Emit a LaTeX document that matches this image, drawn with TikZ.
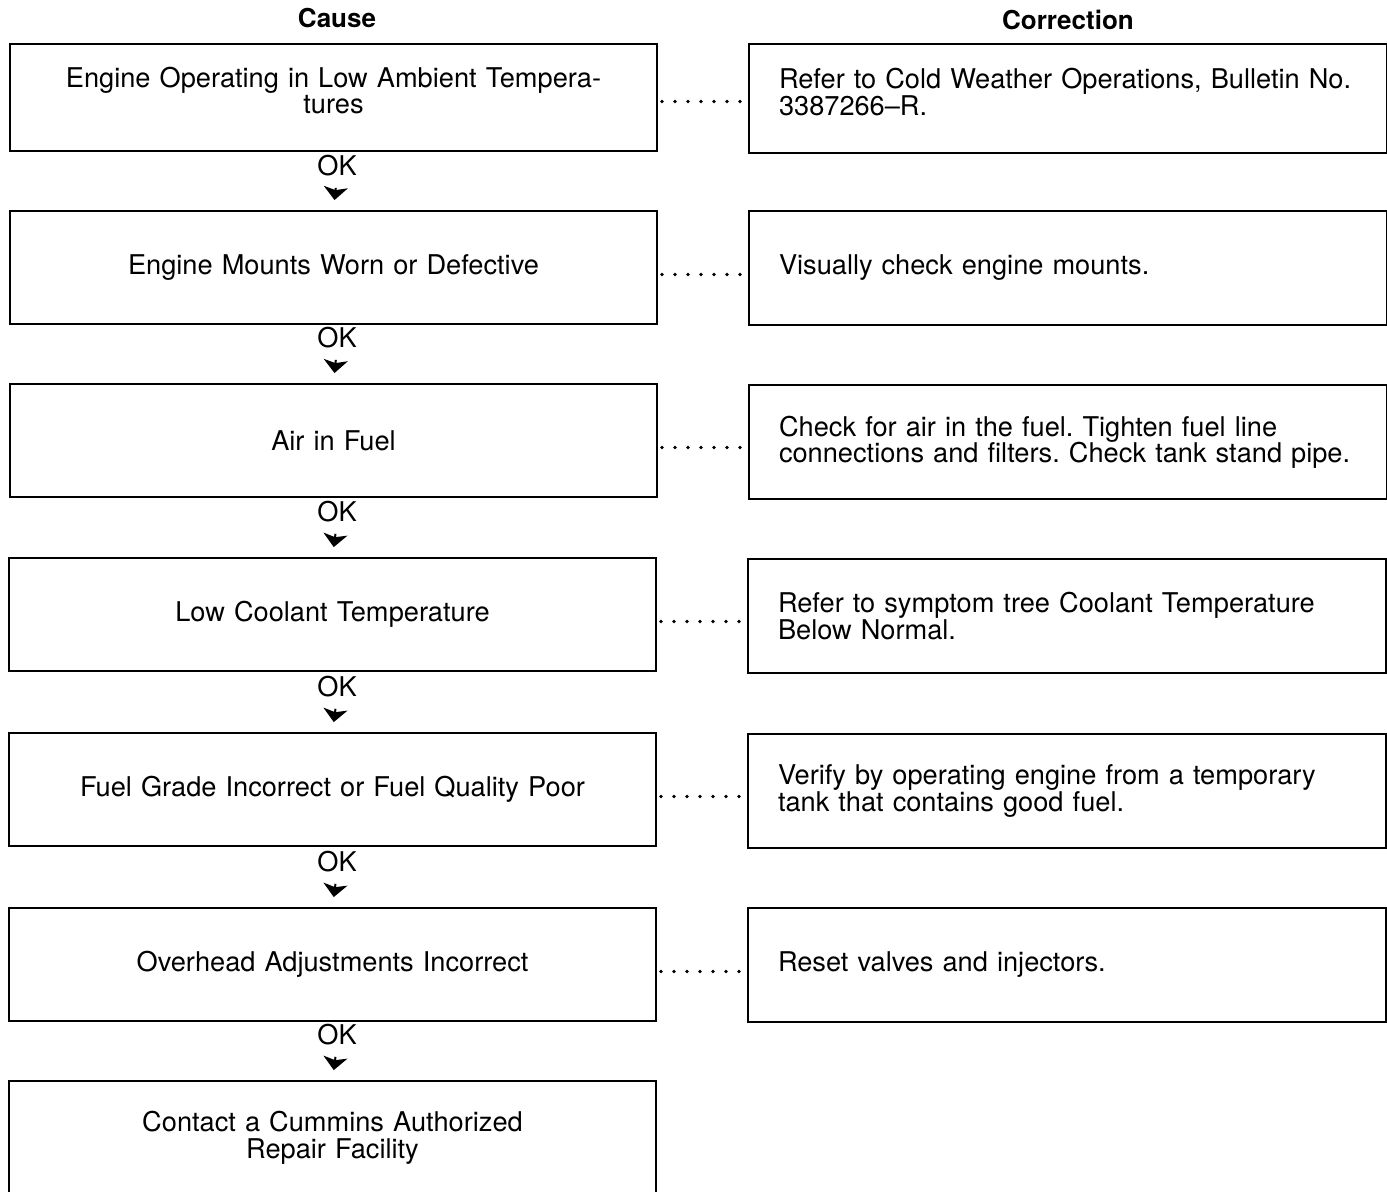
\documentclass[tikz,border=0pt]{standalone}
\usepackage{fontspec}
\setmainfont{TeX Gyre Heros}
\usetikzlibrary{arrows.meta}
\frenchspacing

\begin{document}
\begin{tikzpicture}[x=0.5pt,y=-0.5pt,
cause/.style={draw,line width=1pt,anchor=north west,minimum width=323.5pt,minimum height=56.5pt,
  text width=300pt,align=center,inner sep=0pt,font=\fontsize{13.6}{13.4}\selectfont},
fix/.style={draw,line width=1pt,anchor=north west,minimum width=319pt,minimum height=57pt,
  text width=289pt,inner xsep=15pt,inner ysep=0pt,align=left,font=\fontsize{13.6}{13.2}\selectfont},
head/.style={font=\fontsize{13}{13}\selectfont\bfseries},
ok/.style={anchor=base,inner sep=0pt,font=\fontsize{13.6}{13.4}\selectfont},
okarrow/.style={-{Stealth[length=6.5pt,width=12pt,inset=1.5pt]},line width=1pt,shorten <=6pt,shorten >=5pt},
dots/.style={line width=1.8pt,line cap=round,dash pattern=on 0pt off 6.5pt,shorten <=2pt,shorten >=2pt}]
\clip(0,0)rectangle(1387,1191);
% headings
\node[head](hcause)at(337,18){Cause};
\node[head](hfix)at(1068,20){Correction};
% cause column
\node[cause,minimum height=53.5pt,text depth=20.5pt](c1)at(9,43){Engine Operating in Low Ambient Tempera-\\tures};
\node[cause](c2)at(9,210){Engine Mounts Worn or Defective};
\node[cause](c3)at(9,383){Air in Fuel};
\node[cause](c4)at(8,557){Low Coolant Temperature};
\node[cause](c5)at(8,732){Fuel Grade Incorrect or Fuel Quality Poor};
\node[cause](c6)at(8,907){Overhead Adjustments Incorrect};
\node[cause](c7)at(8,1080){Contact a Cummins Authorized\\Repair Facility};
% correction column
\node[fix,minimum height=54.5pt,text depth=20pt](r1)at(748,43){Refer to Cold Weather Operations, Bulletin No.\\3387266--R.};
\node[fix](r2)at(748,210){Visually check engine mounts.};
\node[fix](r3)at(748,384){Check for air in the fuel. Tighten fuel line\\connections and filters. Check tank stand pipe.};
\node[fix](r4)at(747,558){Refer to symptom tree Coolant Temperature\\Below Normal.};
\node[fix](r5)at(747,733){Verify by operating engine from a temporary\\tank that contains good fuel.};
\node[fix](r6)at(747,907){Reset valves and injectors.};
% OK steps
\node[ok](ok1)at(337,175){OK};
\node[ok](ok2)at(337,347){OK};
\node[ok](ok3)at(337,521){OK};
\node[ok](ok4)at(337,696){OK};
\node[ok](ok5)at(337,871){OK};
\node[ok](ok6)at(337,1044){OK};
\draw[okarrow](ok1.south)--(c2.north);
\draw[okarrow](ok2.south)--(c3.north);
\draw[okarrow](ok3.south)--(c4.north);
\draw[okarrow](ok4.south)--(c5.north);
\draw[okarrow](ok5.south)--(c6.north);
\draw[okarrow](ok6.south)--(c7.north);
% dotted leaders
\draw[dots]([yshift=-2pt]c1.east)--([yshift=-2pt]c1.east-|r1.west);
\draw[dots]([yshift=-3.5pt]c2.east)--([yshift=-3.5pt]c2.east-|r2.west);
\draw[dots]([yshift=-3.5pt]c3.east)--([yshift=-3.5pt]c3.east-|r3.west);
\draw[dots]([yshift=-3.5pt]c4.east)--([yshift=-3.5pt]c4.east-|r4.west);
\draw[dots]([yshift=-3.5pt]c5.east)--([yshift=-3.5pt]c5.east-|r5.west);
\draw[dots]([yshift=-3.5pt]c6.east)--([yshift=-3.5pt]c6.east-|r6.west);
\end{tikzpicture}
\end{document}
